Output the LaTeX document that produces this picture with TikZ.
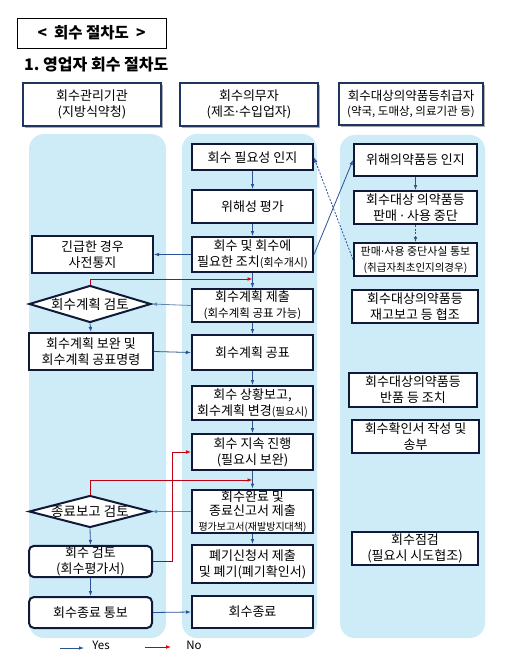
\documentclass[tikz,border=0pt]{standalone}
\usepackage{fontspec}
\setmainfont{Noto Sans CJK KR}
\newfontfamily\dotf{DejaVu Sans}
\usetikzlibrary{arrows.meta,shapes.geometric,shadows}
\definecolor{colbg}{RGB}{206,236,247}
\definecolor{navy}{RGB}{16,26,56}
\definecolor{hdr}{RGB}{31,52,96}
\definecolor{blu}{RGB}{44,82,150}
\definecolor{lblu}{RGB}{96,136,178}
\definecolor{redl}{RGB}{190,0,20}
\definecolor{redh}{RGB}{235,0,0}
\newcommand\fsz[1]{\fontsize{#1}{15}\selectfont}
\newcommand\mdot{{\dotf\char"00B7}}
\begin{document}
\begin{tikzpicture}[x=1pt,y=-1pt,
  wh/.style 2 args={minimum width=#1pt,minimum height=#2pt},
  colbox/.style={fill=colbg,draw=none,rounded corners=15pt},
  box/.style={draw=navy,line width=2pt,fill=white,align=center,inner sep=1pt,font=\fontsize{13}{16}\selectfont},
  rbox/.style={box,rounded corners=5pt},
  dia/.style={shape=diamond,draw=navy,line width=2pt,fill=white,inner sep=0pt,aspect=3.3},
  dtxt/.style={inner sep=0pt,font=\fontsize{13.5}{16}\selectfont},
  hbox/.style={draw=hdr,line width=2.2pt,fill=white,align=center,inner sep=1pt,
    font=\fontsize{13}{15.5}\selectfont,
    drop shadow={shadow xshift=2pt,shadow yshift=-2pt,fill=black!45,opacity=0.7}},
  barr/.style={draw=blu,line width=0.8pt,-{Latex[length=5pt,width=3.6pt]}},
  lbarr/.style={draw=lblu,line width=0.8pt,-{Latex[length=5pt,width=3.6pt]}},
  darr/.style={barr,dash pattern=on 2pt off 1.5pt},
  rarr/.style={draw=redl,line width=0.9pt,-{Latex[length=5pt,width=3.8pt,color=redh]}}
]
\useasboundingbox (0,0) rectangle (504,663);
\fill[white] (0,0) rectangle (504,663);

% title
\node[draw=black,line width=0.8pt,wh={149}{30},inner sep=0pt,font=\fontsize{15.5}{18}\selectfont\bfseries] (title) at (91.5,33) {<\ \ 회수 절차도\ \ >};
\node[anchor=west,inner sep=0pt,font=\fontsize{16}{18}\selectfont\bfseries] (sub) at (24,65) {1.\ 영업자 회수 절차도};

% headers
\node[hbox,wh={138}{43}] (h1) at (92,104.5) {회수관리기관\\(지방식약청)};
\node[hbox,wh={138}{43}] (h2) at (249,104.5) {회수의무자\\(제조\mdot 수입업자)};
\node[hbox,wh={144}{42}] (h3) at (411,104) {{\fsz{12.5}회수대상의약품등취급자}\\{\fsz{11.5}(약국, 도매상, 의료기관 등)}};

% columns
\fill[colbox] (29,134) rectangle (166,638);
\fill[colbox] (182,134) rectangle (317,638);
\fill[colbox] (340,135) rectangle (485,638);

% middle column
\node[box,wh={121}{26}] (n1) at (252.5,157.5) {회수 필요성 인지};
\node[box,wh={121}{33}] (n2) at (252.5,206.5) {위해성 평가};
\node[box,wh={121}{35}] (n3) at (252.5,254.5) {회수 및 회수에\\필요한 조치{\fsz{11}(회수개시)}};
\node[box,wh={121}{33}] (n4) at (252.5,305.5) {회수계획 제출\\{\fsz{11.5}(회수계획 공표 가능)}};
\node[box,wh={121}{35}] (n5) at (252.5,352.5) {회수계획 공표};
\node[box,wh={121}{34}] (n6) at (252.5,403) {회수 상황보고,\\회수계획 변경{\fsz{10.5}(필요시)}};
\node[box,wh={121}{36}] (n7) at (252.5,452) {회수 지속 진행\\(필요시 보완)};
\node[box,wh={121}{43},font=\fontsize{13}{14.5}\selectfont] (n8) at (252.5,511.5) {회수완료 및\\종료신고서 제출\\{\fsz{10}평가보고서(재발방지대책)}};
\node[box,wh={121}{38}] (n9) at (252.5,564) {폐기신청서 제출\\및 폐기(폐기확인서)};
\node[box,wh={121}{32}] (n10) at (252.5,612) {회수종료};

% left column
\node[box,wh={121}{37}] (l1) at (92.5,254.5) {긴급한 경우\\사전통지};
\node[dia,wh={122}{37}] (d1) at (90,304) {};
\node[dtxt] (d1t) at (d1.center) {회수계획 검토};
\node[box,wh={124}{37}] (l2) at (91,351.5) {회수계획 보완 및\\회수계획 공표명령};
\node[dia,wh={122}{32}] (d2) at (90,511.5) {};
\node[dtxt] (d2t) at (d2.center) {종료보고 검토};
\node[rbox,wh={123}{31}] (l3) at (90.5,561.5) {회수 검토\\(회수평가서)};
\node[rbox,wh={123}{31}] (l4) at (90.5,612.5) {회수종료 통보};

% right column
\node[box,wh={123}{32}] (r1) at (415.5,160) {위해의약품등 인지};
\node[box,wh={123}{33}] (r2) at (415.5,207.5) {회수대상 의약품등\\판매 \mdot\ 사용 중단};
\node[box,wh={123}{33}] (r3) at (415.5,259.5) {{\fsz{11}판매\mdot 사용 중단사실 통보}\\{\fsz{10.5}(취급자최초인지의경우)}};
\node[box,wh={126}{33}] (r4) at (415,306.5) {회수대상의약품등\\재고보고 등 협조};
\node[box,wh={128}{34}] (r5) at (413,390) {회수대상의약품등\\반품 등 조치};
\node[box,wh={127}{33}] (r6) at (415.5,436.5) {회수확인서 작성 및\\송부};
\node[box,wh={126}{33}] (r7) at (415,548.5) {회수점검\\(필요시 시도협조)};

% junction points
\coordinate (j1) at (252.5,279);
\coordinate (j2) at (252.5,480);

% middle vertical arrows
\draw[barr] (n1) -- (n2);
\draw[barr] (n2) -- (n3);
\draw[barr] (n3) -- (n4);
\draw[barr] (n4) -- (n5);
\draw[barr] (n5) -- (n6);
\draw[barr] (n6) -- (n7);
\draw[barr] (n7) -- (n8);
\draw[barr] (n8) -- (n9);

% horizontal links
\draw[barr] (n3.west) -- (l1.east);
\draw[lbarr] (n4.west) -- (d1.east);
\draw[barr] (l2.east) -- (n5.west);
\draw[barr] (d1.south) -- (l2.north);
\draw[rarr] (d1.north) |- (j1);
\draw[rarr] (d2.north) |- (j2);
\draw[lbarr] (n8.west) -- (d2.east);
\draw[barr] (d2.south) -- (l3.north);
\draw[rarr] (l3.east) -- ++(19,0) |- (n7.west);
\draw[barr] (l3.south) -- (l4.north);
\draw[barr] (l4.east) -- (n10.west);

% right column links
\draw[barr] (n3.east) -- (r1.west);
\draw[darr] (r3.west) -- (n1.east);
\draw[barr] (r1) -- (r2);
\draw[darr] (r2) -- (r3);

% legend
\coordinate (ya) at (60,648);
\coordinate (yb) at (84,648);
\coordinate (na) at (145,647);
\coordinate (nb) at (171,647);
\draw[barr] (ya) -- (yb);
\draw[rarr] (na) -- (nb);
\node[inner sep=0pt,font=\fontsize{11.5}{13}\selectfont] (yes) at (101,645) {Yes};
\node[inner sep=0pt,font=\fontsize{11.5}{13}\selectfont] (no) at (194,645) {No};
\end{tikzpicture}
\end{document}
